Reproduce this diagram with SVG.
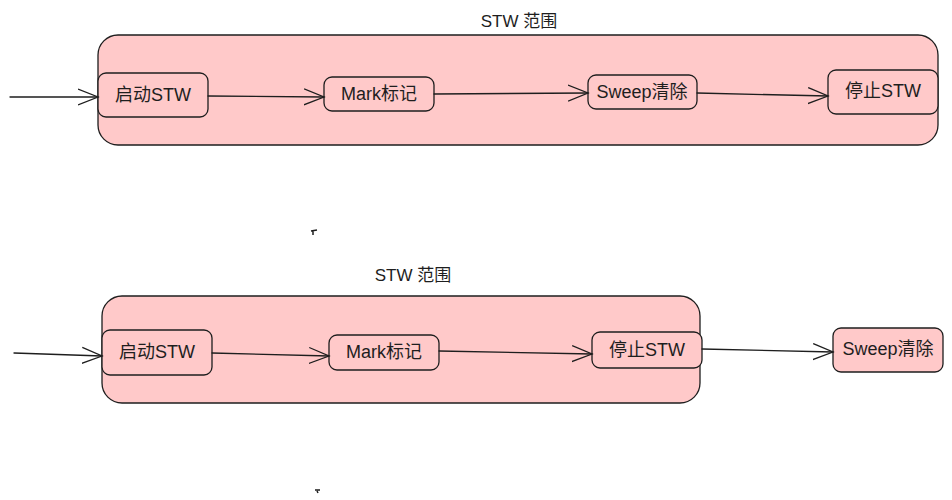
<svg xmlns="http://www.w3.org/2000/svg" width="952" height="500" viewBox="0 0 952 500">
<style>
.box{fill:#ffc9c9;stroke:#1e1e1e;stroke-width:1.3}
.lbl{font-family:"Liberation Sans","Noto Sans CJK SC",sans-serif;font-size:18px;fill:#1e1e1e;text-anchor:middle;dominant-baseline:central}
.ttl{font-family:"Liberation Sans","Noto Sans CJK SC",sans-serif;font-size:17px;fill:#1e1e1e;text-anchor:middle;dominant-baseline:central}
.edge{fill:none;stroke:#1e1e1e;stroke-width:1.3;stroke-linecap:round;stroke-linejoin:round}
</style>
<defs>
<marker id="ah" markerWidth="22" markerHeight="18" refX="20" refY="9" orient="auto" markerUnits="userSpaceOnUse">
<path d="M0,1 L20,9 L0,17" fill="none" stroke="#1e1e1e" stroke-width="1.3"/>
</marker>
</defs>
<rect width="952" height="500" fill="#ffffff"/>
<g id="group-top">
<rect class="box" x="98" y="35" width="840" height="110" rx="20"/>
<text class="ttl" x="519" y="21">STW 范围</text>
</g>
<g id="top-start"><rect class="box" x="98" y="73" width="110" height="44" rx="8"/><text class="lbl" x="153" y="95">启动STW</text></g>
<g id="top-mark"><rect class="box" x="324" y="77" width="110" height="34" rx="8"/><text class="lbl" x="379" y="94">Mark标记</text></g>
<g id="top-sweep"><rect class="box" x="588" y="75" width="109" height="34" rx="8"/><text class="lbl" x="642" y="92">Sweep清除</text></g>
<g id="top-stop"><rect class="box" x="828" y="70" width="110" height="44" rx="8"/><text class="lbl" x="883" y="91">停止STW</text></g>
<g id="group-bottom">
<rect class="box" x="102" y="296" width="598" height="107" rx="20"/>
<text class="ttl" x="413" y="275">STW 范围</text>
</g>
<g id="bot-start"><rect class="box" x="102" y="330" width="110" height="45" rx="8"/><text class="lbl" x="157" y="352">启动STW</text></g>
<g id="bot-mark"><rect class="box" x="329" y="335" width="110" height="35" rx="8"/><text class="lbl" x="384" y="352">Mark标记</text></g>
<g id="bot-stop"><rect class="box" x="592" y="332" width="110" height="36" rx="8"/><text class="lbl" x="647" y="350">停止STW</text></g>
<g id="bot-sweep"><rect class="box" x="833" y="328" width="110" height="44" rx="8"/><text class="lbl" x="888" y="349">Sweep清除</text></g>
<g id="connectors">
<path class="edge" d="M10,97 L98,97" marker-end="url(#ah)"/>
<path class="edge" d="M208,96 L324,97" marker-end="url(#ah)"/>
<path class="edge" d="M434,94 L588,93" marker-end="url(#ah)"/>
<path class="edge" d="M697,93 L828,96" marker-end="url(#ah)"/>
<path class="edge" d="M14,353 L102,356" marker-end="url(#ah)"/>
<path class="edge" d="M212,353 L329,356" marker-end="url(#ah)"/>
<path class="edge" d="M439,351 L592,354" marker-end="url(#ah)"/>
<path class="edge" d="M702,349 L833,352" marker-end="url(#ah)"/>
</g>
<g id="marks">
<path d="M311,231 L317,230 M313,231 L313,235" stroke="#1e1e1e" stroke-width="1.5" fill="none"/>
<path d="M315,490 L320,490 M317,491 L318,493" stroke="#1e1e1e" stroke-width="1.5" fill="none"/>
</g>
</svg>
